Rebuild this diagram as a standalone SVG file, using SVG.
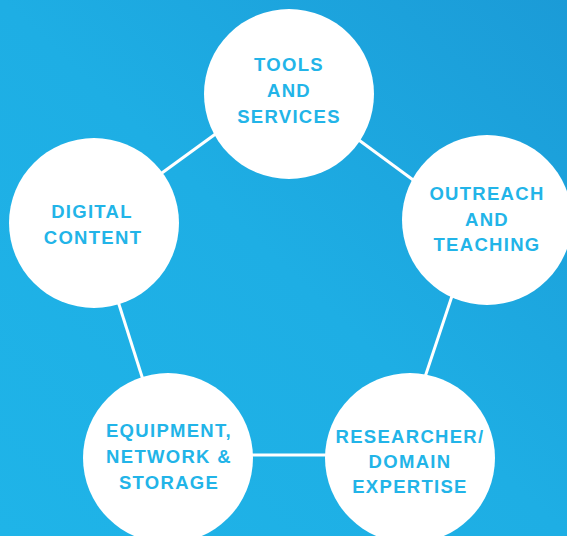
<svg xmlns="http://www.w3.org/2000/svg" width="567" height="536" viewBox="0 0 567 536">
<defs>
<linearGradient id="bg" x1="0" y1="1" x2="1" y2="0">
<stop offset="0" stop-color="#1fb4e8"/>
<stop offset="0.5" stop-color="#1eaee4"/>
<stop offset="1" stop-color="#1b9bd7"/>
</linearGradient>
<style>
.node circle{fill:#ffffff}
.node text{font-family:"Liberation Sans",Arial,sans-serif;font-weight:700;font-size:18.5px;letter-spacing:1.3px;fill:#22b4e8;text-anchor:middle}
.edges line{stroke:#ffffff;stroke-width:3}
</style>
</defs>
<rect width="567" height="536" fill="url(#bg)"/>
<g class="edges">
<line x1="155" y1="178" x2="221" y2="130"/>
<line x1="352" y1="135" x2="420" y2="185"/>
<line x1="455" y1="287" x2="424" y2="380"/>
<line x1="244" y1="455" x2="336" y2="455"/>
<line x1="116" y1="295" x2="144" y2="383"/>
</g>
<g id="tools" class="node">
<circle cx="289" cy="94" r="85"/>
<text x="289" y="71">TOOLS</text>
<text x="289" y="97">AND</text>
<text x="289" y="123">SERVICES</text>
</g>
<g id="outreach" class="node">
<circle cx="487" cy="220" r="85"/>
<text x="487" y="200">OUTREACH</text>
<text x="487" y="226">AND</text>
<text x="487" y="251">TEACHING</text>
</g>
<g id="researcher" class="node">
<circle cx="410" cy="458" r="85"/>
<text x="410" y="443">RESEARCHER/</text>
<text x="410" y="468">DOMAIN</text>
<text x="410" y="493">EXPERTISE</text>
</g>
<g id="equipment" class="node">
<circle cx="168" cy="458" r="85"/>
<text x="169" y="437">EQUIPMENT,</text>
<text x="169" y="463">NETWORK &amp;</text>
<text x="169" y="489">STORAGE</text>
</g>
<g id="digital" class="node">
<circle cx="94" cy="223" r="85"/>
<text x="92" y="218">DIGITAL</text>
<text x="93" y="244">CONTENT</text>
</g>
</svg>
